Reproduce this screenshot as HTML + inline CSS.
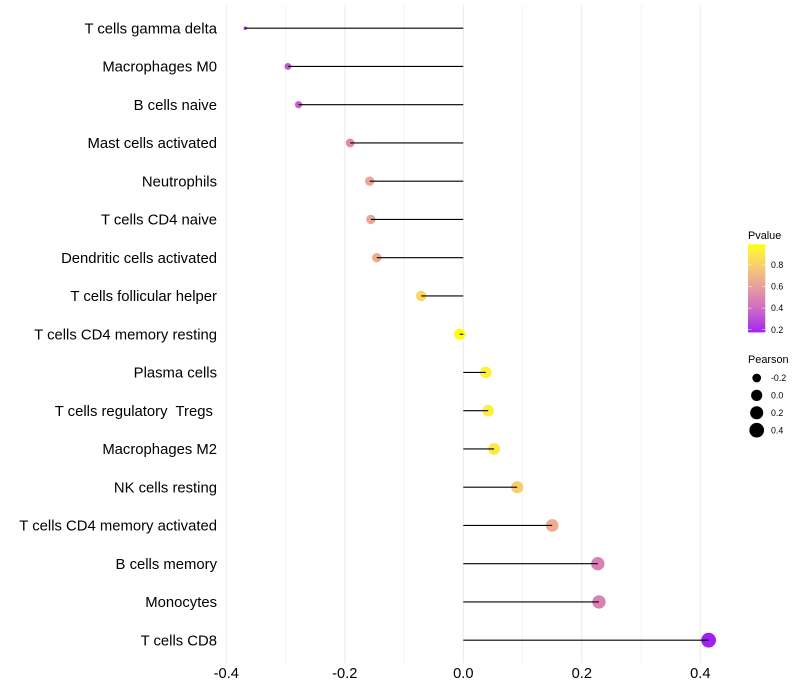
<!DOCTYPE html>
<html>
<head>
<meta charset="utf-8">
<title>Immune cell correlation lollipop chart</title>
<style>
html,body{margin:0;padding:0;background:#fff;width:800px;height:700px;overflow:hidden}
svg{display:block}
text{font-family:"Liberation Sans",sans-serif;white-space:pre}
</style>
</head>
<body>
<svg id="chart" width="800" height="700" viewBox="0 0 800 700" xmlns="http://www.w3.org/2000/svg">
<defs><linearGradient id="pvalue-gradient" x1="0" y1="1" x2="0" y2="0"></linearGradient></defs>
</svg>
<script>
const categories = ["T cells gamma delta","Macrophages M0","B cells naive","Mast cells activated","Neutrophils","T cells CD4 naive","Dendritic cells activated","T cells follicular helper","T cells CD4 memory resting","Plasma cells","T cells regulatory  Tregs ","Macrophages M2","NK cells resting","T cells CD4 memory activated","B cells memory","Monocytes","T cells CD8"];
const pearsonValues = [-0.368,-0.296,-0.278,-0.191,-0.158,-0.156,-0.146,-0.071,-0.006,0.038,0.042,0.052,0.091,0.150,0.227,0.229,0.414];
const pValues = [0.20,0.33,0.36,0.52,0.63,0.63,0.65,0.83,0.99,0.93,0.92,0.90,0.79,0.66,0.48,0.48,0.175];
const xMajorTicks = [-0.4,-0.2,0.0,0.2,0.4];
const xMinorTicks = [-0.3,-0.1,0.1,0.3];
const pvalueLegendTicks = [0.2,0.4,0.6,0.8];
const pearsonLegendValues = [-0.2,0.0,0.2,0.4];

const svg = document.getElementById('chart');
const NS = 'http://www.w3.org/2000/svg';
const panelTop = 5, panelBottom = 663;
const firstRowY = 28.2, rowStep = 38.25;
const zeroX = 463.3, pxPerUnit = 592.5;
const xScale = v => zeroX + v * pxPerUnit;
const yScale = i => firstRowY + i * rowStep;

const sizeDomainMin = Math.min(...pearsonValues);
const sizeDomainMax = Math.max(...pearsonValues);
const radiusScale = v => {
  const t = Math.max(0, (v - sizeDomainMin) / (sizeDomainMax - sizeDomainMin));
  return 1.7 + Math.sqrt(t) * 5.7;
};

function srgbToLab(c){
  const lin = c.map(x => { x /= 255; return x > 0.04045 ? Math.pow((x + 0.055) / 1.055, 2.4) : x / 12.92; });
  const X = (0.4124 * lin[0] + 0.3576 * lin[1] + 0.1805 * lin[2]) / 0.95047;
  const Y = 0.2126 * lin[0] + 0.7152 * lin[1] + 0.0722 * lin[2];
  const Z = (0.0193 * lin[0] + 0.1192 * lin[1] + 0.9505 * lin[2]) / 1.08883;
  const f = t => t > 0.008856 ? Math.cbrt(t) : 7.787 * t + 16 / 116;
  return [116 * f(Y) - 16, 500 * (f(X) - f(Y)), 200 * (f(Y) - f(Z))];
}
function labToCss(l){
  const fy = (l[0] + 16) / 116, fx = fy + l[1] / 500, fz = fy - l[2] / 200;
  const g = t => t * t * t > 0.008856 ? t * t * t : (t - 16 / 116) / 7.787;
  const X = 0.95047 * g(fx), Y = g(fy), Z = 1.08883 * g(fz);
  const r = 3.2406 * X - 1.5372 * Y - 0.4986 * Z;
  const gg = -0.9689 * X + 1.8758 * Y + 0.0415 * Z;
  const b = 0.0557 * X - 0.204 * Y + 1.057 * Z;
  const enc = v => {
    v = Math.max(0, Math.min(1, v));
    v = v > 0.0031308 ? 1.055 * Math.pow(v, 1 / 2.4) - 0.055 : 12.92 * v;
    return Math.round(v * 255);
  };
  return 'rgb(' + enc(r) + ',' + enc(gg) + ',' + enc(b) + ')';
}
const labLow = srgbToLab([160,32,240]);
const labHigh = srgbToLab([255,255,0]);
const pMin = 0.175, pMax = 0.99;
const colorScale = p => {
  const t = Math.max(0, Math.min(1, (p - pMin) / (pMax - pMin)));
  return labToCss(labLow.map((v, i) => v + (labHigh[i] - v) * t));
};

function make(tag, attrs, parent){
  const el = document.createElementNS(NS, tag);
  for (const k in attrs) el.setAttribute(k, attrs[k]);
  (parent || svg).appendChild(el);
  return el;
}

xMinorTicks.forEach(v => {
  const el = make('line', {x1:xScale(v), x2:xScale(v), y1:panelTop, y2:panelBottom, stroke:'#ebebeb', 'stroke-width':0.55});
  
  
});
xMajorTicks.forEach(v => {
  const el = make('line', {x1:xScale(v), x2:xScale(v), y1:panelTop, y2:panelBottom, stroke:'#ebebeb', 'stroke-width':1.07});
  
  
  const t = make('text', {x:xScale(v), y:678, 'text-anchor':'middle', 'font-size':14.67, fill:'#000'});
  t.textContent = v.toFixed(1);
  
  
});

categories.forEach((name, i) => {
  const t = make('text', {x:217, y:yScale(i) + 5.2, 'text-anchor':'end', 'font-size':14.85, fill:'#000'});
  t.textContent = name;
  
  
  const dot = make('circle', {cx:xScale(pearsonValues[i]), cy:yScale(i), r:radiusScale(pearsonValues[i]), fill:colorScale(pValues[i])});
  
  
  const seg = make('line', {x1:zeroX, x2:xScale(pearsonValues[i]), y1:yScale(i), y2:yScale(i), stroke:'#000', 'stroke-width':1.07});
  
  
});

const pTitle = make('text', {x:748, y:239, 'font-size':10.9, fill:'#000'});
pTitle.textContent = 'Pvalue';



const legendP = p => 329.7 - (p - 0.2) * 108;
const grad = document.getElementById('pvalue-gradient');
for (let s = 0; s <= 20; s++) {
  const stop = document.createElementNS(NS, 'stop');
  stop.setAttribute('offset', s / 20);
  stop.setAttribute('stop-color', colorScale(pMin + (pMax - pMin) * s / 20));
  grad.appendChild(stop);
}
const bar = make('rect', {x:748, y:legendP(pMax), width:17.3, height:legendP(pMin) - legendP(pMax), fill:'url(#pvalue-gradient)'});


pvalueLegendTicks.forEach(v => {
  const y = legendP(v);
  const a = make('line', {x1:748, x2:751.5, y1:y, y2:y, stroke:'#fff', 'stroke-width':0.5});
  
  
  const b = make('line', {x1:761.8, x2:765.3, y1:y, y2:y, stroke:'#fff', 'stroke-width':0.5});
  
  
  const t = make('text', {x:771, y:y + 3.1, 'font-size':8.8, fill:'#000'});
  t.textContent = v.toFixed(1);
  
  
});

const sTitle = make('text', {x:748, y:363, 'font-size':10.9, fill:'#000'});
sTitle.textContent = 'Pearson';



const legendRowTop = 378, legendRowStep = 17.4;
pearsonLegendValues.forEach((v, i) => {
  const y = legendRowTop + i * legendRowStep;
  const c = make('circle', {cx:756.7, cy:y, r:radiusScale(v), fill:'#000'});
  
  
  const t = make('text', {x:771, y:y + 3.1, 'font-size':8.8, fill:'#000'});
  t.textContent = v.toFixed(1);
  
  
});
</script>
</body>
</html>
